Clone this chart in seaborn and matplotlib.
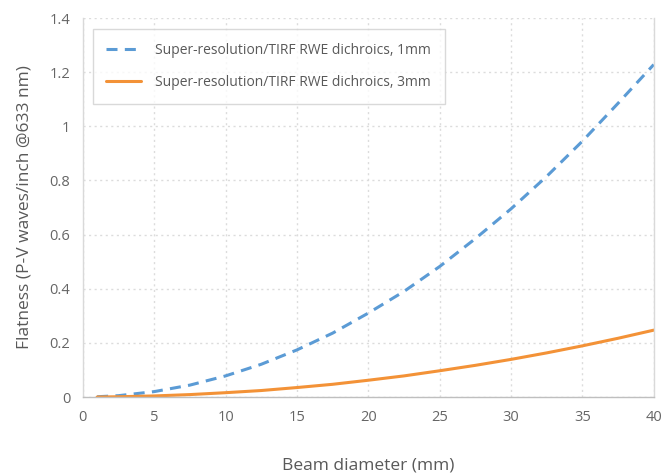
import matplotlib
matplotlib.use('Agg')
import matplotlib.pyplot as plt
import matplotlib.ticker as mticker
import pandas as pd
import seaborn as sns

# beam diameter (mm)
diameter = [1, 2.5, 5, 7.5, 10, 12.5, 15, 17.5, 20, 22.5, 25, 27.5, 30, 32.5, 35, 37.5, 40]
# flatness
flat_1mm = [0.001, 0.005, 0.02, 0.044, 0.078, 0.121, 0.174, 0.236, 0.31, 0.39, 0.482,
            0.585, 0.695, 0.815, 0.945, 1.085, 1.228]
flat_3mm = [0.0, 0.001, 0.004, 0.009, 0.016, 0.024, 0.035, 0.047, 0.062, 0.078, 0.097,
            0.117, 0.139, 0.163, 0.189, 0.217, 0.247]

label_1mm = 'Super-resolution/TIRF RWE dichroics, 1mm'
label_3mm = 'Super-resolution/TIRF RWE dichroics, 3mm'

df = pd.DataFrame({'diameter': diameter, '1mm': flat_1mm, '3mm': flat_3mm})

sns.set_style('white')
plt.rcParams['font.family'] = ['Open Sans', 'DejaVu Sans']

fig = plt.figure(figsize=(6.63, 4.74), dpi=100)
ax = fig.add_axes([0.125, 0.1624, 0.861, 0.7996])

sns.lineplot(data=df, x='diameter', y='1mm', ax=ax, color='#5b9bd5',
             linewidth=2.2, label=label_1mm)
sns.lineplot(data=df, x='diameter', y='3mm', ax=ax, color='#f39237',
             linewidth=2.2, label=label_3mm)
ax.lines[0].set_dashes([3.6, 2.4])

ax.set_xlim(0, 40)
ax.set_ylim(0, 1.4)
ax.xaxis.set_major_locator(mticker.MultipleLocator(5))
ax.yaxis.set_major_locator(mticker.MultipleLocator(0.2))
ax.yaxis.set_major_formatter(mticker.FuncFormatter(lambda v, p: f'{v:g}'))

ax.grid(True, linestyle=(0, (1.5, 2.5)), color='#dcdcdc', linewidth=1)
for side in ['left', 'right', 'bottom']:
    ax.spines[side].set_color('#d9d9d9')
    ax.spines[side].set_linewidth(1)
ax.spines['bottom'].set_color('#bfbfbf')
ax.spines['top'].set_visible(False)

ax.tick_params(axis='both', length=0, labelsize=10.5, colors='#666666', pad=9)
ax.set_xlabel('Beam diameter (mm)', fontsize=12.5, color='#595959', labelpad=24)
ax.set_ylabel('Flatness (P-V waves/inch @633 nm)', fontsize=12.5, color='#595959',
              labelpad=12)

leg = ax.legend(loc='upper left', bbox_to_anchor=(0.017, 0.97), fontsize=10,
                frameon=True, fancybox=False, borderpad=1.0, labelspacing=1.2,
                handlelength=2.5, handletextpad=1.0, borderaxespad=0)
leg.get_frame().set_edgecolor('#d0d0d0')
leg.get_frame().set_linewidth(1)
for t in leg.get_texts():
    t.set_color('#595959')

plt.savefig('out.png', dpi=100)
